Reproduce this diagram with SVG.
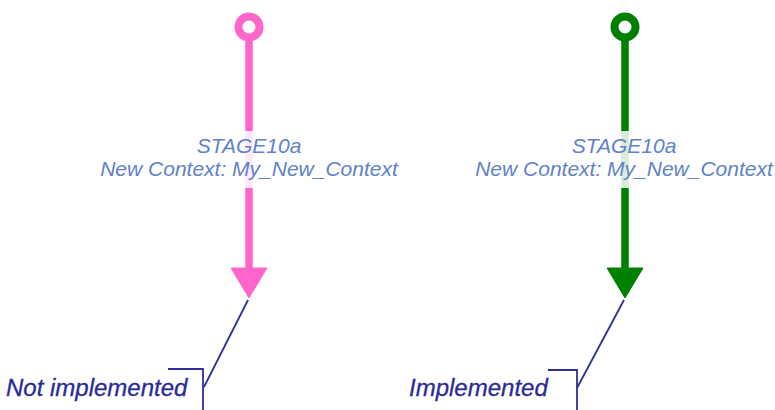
<svg xmlns="http://www.w3.org/2000/svg" width="775" height="410" viewBox="0 0 775 410">
  <defs>
    <style>
      .stage { font-family: "Liberation Sans", Arial, sans-serif; font-style: italic; font-size: 21px; fill: #5f82c8; text-anchor: middle; }
      .note-text { font-family: "Liberation Sans", Arial, sans-serif; font-style: italic; font-size: 24px; fill: #2b2b96; stroke: #2b2b96; stroke-width: 0.3; }
      .note-line { fill: none; stroke: #2f2f9c; stroke-width: 1.8; }
      .label-bg { fill: #ffffff; fill-opacity: 0.85; }
      .pink { stroke: #ff66cc; fill: #ff66cc; }
      .green { stroke: #008000; fill: #008000; }
    </style>
  </defs>
  <rect width="775" height="410" fill="#ffffff"/>

  <!-- start states -->
  <g id="start-pink">
    <circle cx="249" cy="27" r="10.5" fill="#ffffff" stroke="#ff66cc" stroke-width="8"/>
  </g>
  <g id="start-green">
    <circle cx="625" cy="27" r="10.5" fill="#ffffff" stroke="#008000" stroke-width="8"/>
  </g>

  <!-- transitions -->
  <g id="connectors">
    <line class="pink" x1="249" y1="41" x2="249" y2="272" stroke-width="7.5"/>
    <polygon class="pink" points="231,268 267,268 249,298" stroke="none"/>
    <line class="green" x1="625" y1="41" x2="625" y2="272" stroke-width="7.5"/>
    <polygon class="green" points="607,268 643,268 625,298" stroke="none"/>
    <!-- note anchors -->
    <line class="note-line" x1="248" y1="300" x2="204" y2="387"/>
    <line class="note-line" x1="624" y1="300" x2="577" y2="388"/>
  </g>

  <!-- transition labels -->
  <g id="label-pink">
    <rect class="label-bg" x="96" y="131" width="306" height="57"/>
    <text class="stage" x="249" y="153">STAGE10a</text>
    <text class="stage" x="249" y="176">New Context: My_New_Context</text>
  </g>
  <g id="label-green">
    <rect class="label-bg" x="472" y="131" width="303" height="57"/>
    <text class="stage" x="624" y="153">STAGE10a</text>
    <text class="stage" x="624" y="176">New Context: My_New_Context</text>
  </g>

  <!-- notes -->
  <g id="note-not-implemented">
    <polyline class="note-line" points="168,369 203,369 203,412"/>
    <text class="note-text" x="6" y="396">Not implemented</text>
  </g>
  <g id="note-implemented">
    <polyline class="note-line" points="548,370 577,370 577,412"/>
    <text class="note-text" x="409" y="396">Implemented</text>
  </g>
</svg>
